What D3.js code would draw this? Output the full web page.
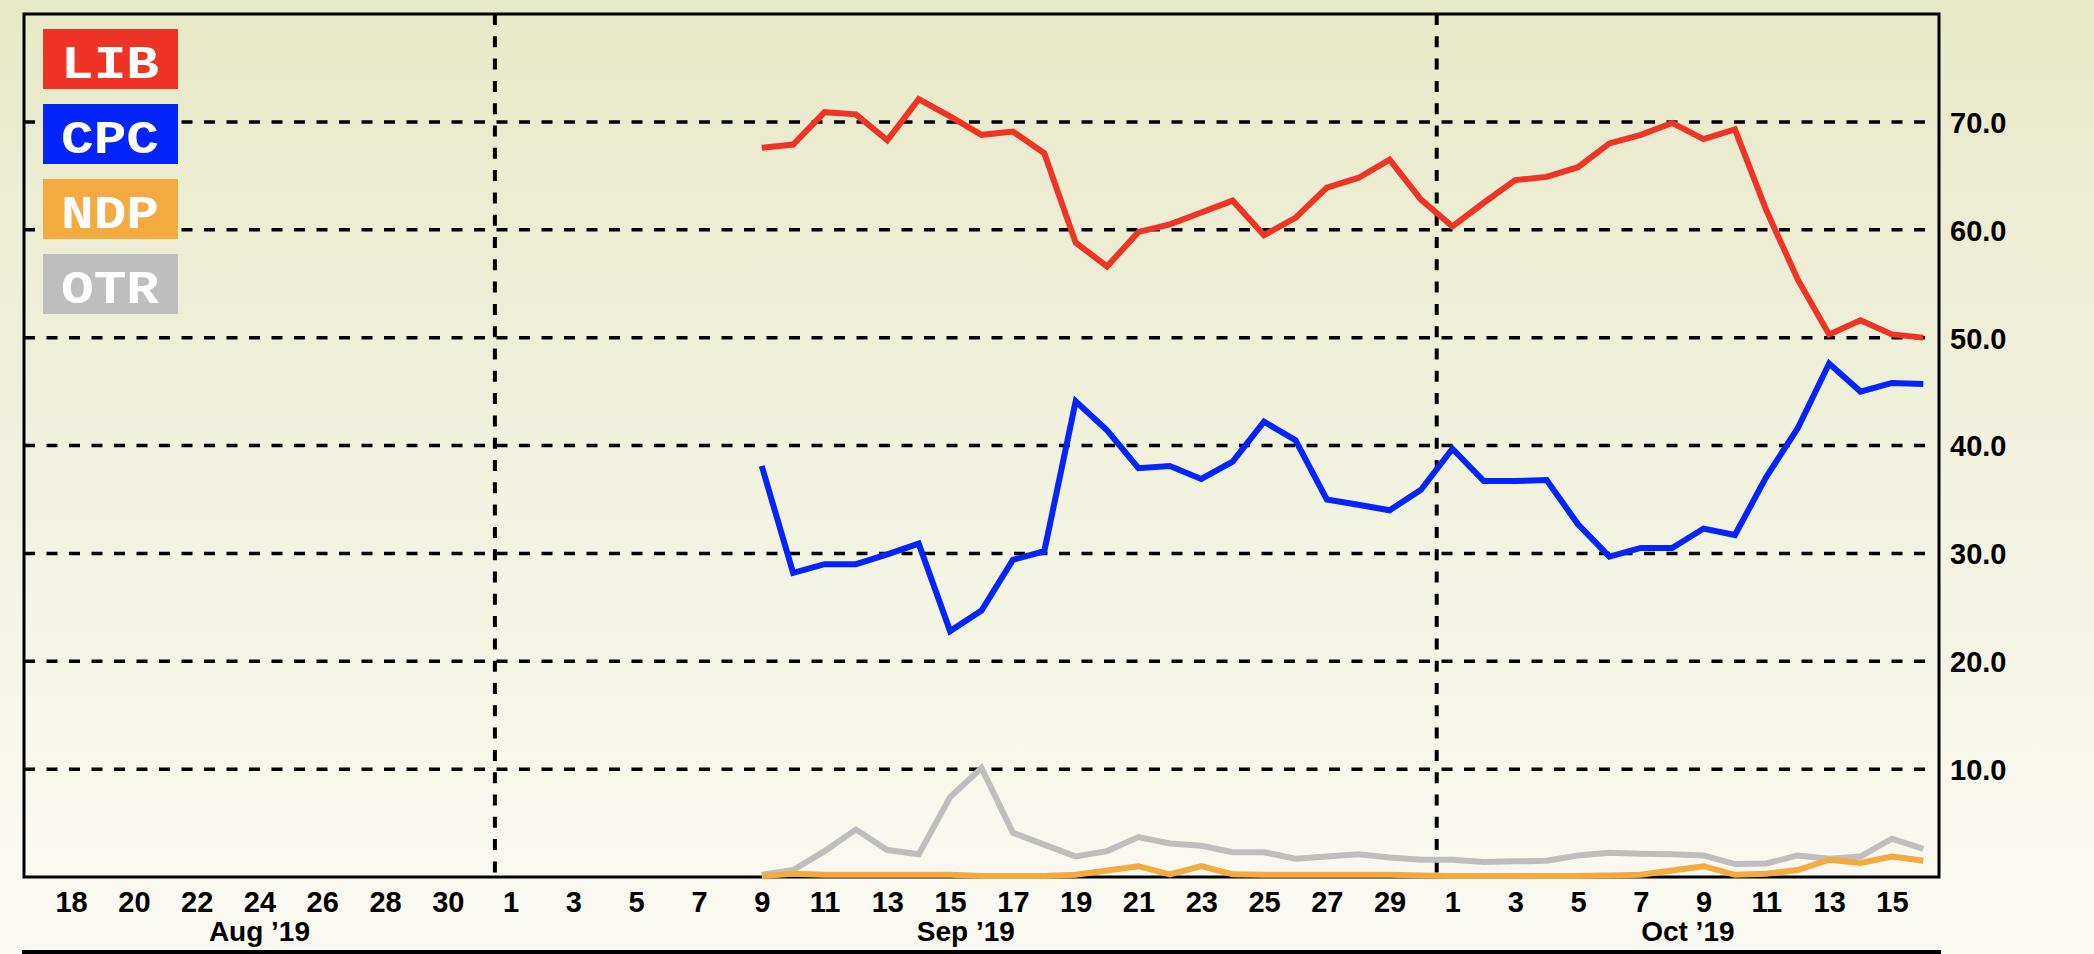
<!DOCTYPE html>
<html>
<head>
<meta charset="utf-8">
<script src="https://cdn.jsdelivr.net/npm/d3@7/dist/d3.min.js"></script>
<style>
  html, body { margin: 0; padding: 0; overflow: hidden; }
  svg { display: block; }
</style>
</head>
<body>
<script>
// poll dates (Sep 9 .. Oct 16, 2019)
var dates = [
  "2019-09-09","2019-09-10","2019-09-11","2019-09-12","2019-09-13","2019-09-14",
  "2019-09-15","2019-09-16","2019-09-17","2019-09-18","2019-09-19","2019-09-20",
  "2019-09-21","2019-09-22","2019-09-23","2019-09-24","2019-09-25","2019-09-26",
  "2019-09-27","2019-09-28","2019-09-29","2019-09-30",
  "2019-10-01","2019-10-02","2019-10-03","2019-10-04","2019-10-05","2019-10-06",
  "2019-10-07","2019-10-08","2019-10-09","2019-10-10","2019-10-11","2019-10-12",
  "2019-10-13","2019-10-14","2019-10-15","2019-10-16"
];

var lib = [67.6, 67.9, 70.9, 70.7, 68.3, 72.1, 70.5, 68.8, 69.1, 67.1, 58.8, 56.6,
           59.8, 60.5, 61.6, 62.7, 59.5, 61.1, 63.9, 64.8, 66.5, 62.8,
           60.3, 62.5, 64.6, 64.9, 65.8, 68.0, 68.8, 69.9, 68.4, 69.3, 61.8, 55.4,
           50.3, 51.6, 50.3, 50.0];

var cpc = [38.1, 28.2, 29.0, 29.0, 29.9, 30.9, 22.8, 24.7, 29.4, 30.2, 44.1, 41.4,
           37.9, 38.1, 36.9, 38.5, 42.2, 40.5, 35.0, 34.5, 34.0, 35.9,
           39.7, 36.7, 36.7, 36.8, 32.7, 29.7, 30.5, 30.5, 32.3, 31.7, 37.1, 41.6,
           47.6, 45.0, 45.8, 45.7];

var ndp = [0.1, 0.3, 0.2, 0.2, 0.2, 0.2, 0.2, 0.1, 0.1, 0.1, 0.2, 0.6,
           1.0, 0.25, 1.0, 0.25, 0.2, 0.2, 0.2, 0.2, 0.2, 0.15,
           0.1, 0.1, 0.1, 0.1, 0.1, 0.15, 0.2, 0.6, 1.0, 0.2, 0.3, 0.65,
           1.6, 1.3, 1.9, 1.5];

var otr = [0.2, 0.65, 2.4, 4.4, 2.5, 2.1, 7.4, 10.1, 4.1, 3.0, 1.9, 2.4,
           3.7, 3.1, 2.9, 2.3, 2.3, 1.7, 1.9, 2.1, 1.8, 1.6,
           1.6, 1.4, 1.45, 1.5, 2.0, 2.25, 2.15, 2.1, 2.0, 1.2, 1.25, 2.0,
           1.7, 1.9, 3.55, 2.6];

var parties = ["LIB", "CPC", "NDP", "OTR"];
var party_colors = ["#ee3425", "#0424fa", "#f3aa3f", "#bebebe"];

// x axis labels, every second day
var tick_days = [
  "2019-08-18","2019-08-20","2019-08-22","2019-08-24","2019-08-26","2019-08-28","2019-08-30",
  "2019-09-01","2019-09-03","2019-09-05","2019-09-07","2019-09-09","2019-09-11","2019-09-13",
  "2019-09-15","2019-09-17","2019-09-19","2019-09-21","2019-09-23","2019-09-25","2019-09-27",
  "2019-09-29","2019-10-01","2019-10-03","2019-10-05","2019-10-07","2019-10-09","2019-10-11",
  "2019-10-13","2019-10-15"
];
var months = ["2019-08-01", "2019-09-01", "2019-10-01"];
var month_labels = ["Aug \u201919", "Sep \u201919", "Oct \u201919"];
var y_ticks = [10, 20, 30, 40, 50, 60, 70];

var width = 2094;
var height = 954;
var plot_left = 24, plot_right = 1939, plot_top = 14, plot_bottom = 877;

var parseDay = d3.utcParse("%Y-%m-%d");
var noon = function(s) { return d3.utcHour.offset(parseDay(s), 12); };

var x = d3.scaleUtc()
  .domain([parseDay("2019-08-17"), parseDay("2019-10-17")])
  .range([plot_left, plot_right]);

var y = d3.scaleLinear()
  .domain([0, 80])
  .range([plot_bottom, plot_top]);

var svg = d3.select("body").append("svg")
  .attr("width", width)
  .attr("height", height);

// page background
var grad = svg.append("defs").append("linearGradient")
  .attr("id", "bg")
  .attr("x1", 0).attr("y1", 0).attr("x2", 0).attr("y2", 1);
grad.append("stop").attr("offset", "0%").attr("stop-color", "#e8e9c8");
grad.append("stop").attr("offset", "92%").attr("stop-color", "#f9f9f1");
grad.append("stop").attr("offset", "100%").attr("stop-color", "#f9f9f2");

svg.append("rect")
  .attr("width", width).attr("height", height)
  .attr("fill", "url(#bg)");

// horizontal grid
svg.append("g")
  .selectAll("line")
  .data(y_ticks)
  .enter().append("line")
    .attr("x1", plot_left).attr("x2", plot_right - 4)
    .attr("y1", d => y(d)).attr("y2", d => y(d))
    .attr("stroke", "#000")
    .attr("stroke-width", 3.5)
    .attr("stroke-dasharray", "11,11.5");

// month separators
svg.append("g")
  .selectAll("line")
  .data(months.slice(1))
  .enter().append("line")
    .attr("x1", d => x(parseDay(d))).attr("x2", d => x(parseDay(d)))
    .attr("y1", plot_top).attr("y2", plot_bottom)
    .attr("stroke", "#000")
    .attr("stroke-width", 4)
    .attr("stroke-dasharray", "11,11.3");

// frame
svg.append("rect")
  .attr("x", plot_left).attr("y", plot_top)
  .attr("width", plot_right - plot_left).attr("height", plot_bottom - plot_top)
  .attr("fill", "none")
  .attr("stroke", "#000")
  .attr("stroke-width", 3);

// bottom rule
svg.append("line")
  .attr("x1", 22).attr("x2", 1941)
  .attr("y1", 952).attr("y2", 952)
  .attr("stroke", "#000")
  .attr("stroke-width", 4);

// x axis
var xAxis = d3.axisBottom(x)
  .tickValues(tick_days.map(noon))
  .tickFormat(d3.utcFormat("%-d"))
  .tickSize(0);

var gx = svg.append("g")
  .attr("transform", "translate(0," + plot_bottom + ")")
  .call(xAxis);
gx.select(".domain").remove();
gx.selectAll("text")
  .attr("y", 35).attr("dy", null)
  .attr("fill", "#000")
  .style("font-family", "'Liberation Sans', Arial, sans-serif")
  .style("font-weight", "bold")
  .style("font-size", "29px");

// month labels, centred on the visible part of each month
var x_dom = x.domain();
svg.append("g")
  .selectAll("text")
  .data(months)
  .enter().append("text")
    .attr("x", function(d) {
      var a = parseDay(d);
      var b = d3.utcMonth.offset(a, 1);
      a = a < x_dom[0] ? x_dom[0] : a;
      b = b > x_dom[1] ? x_dom[1] : b;
      return (x(a) + x(b)) / 2;
    })
    .attr("y", 941)
    .attr("text-anchor", "middle")
    .style("font-family", "'Liberation Sans', Arial, sans-serif")
    .style("font-weight", "bold")
    .style("font-size", "28px")
    .text((d, i) => month_labels[i]);

// y axis on the right
var yAxis = d3.axisRight(y)
  .tickValues(y_ticks)
  .tickFormat(d3.format(".1f"))
  .tickSize(0)
  .tickPadding(11);

var gy = svg.append("g")
  .attr("transform", "translate(" + plot_right + ",0)")
  .call(yAxis);
gy.select(".domain").remove();
gy.selectAll("text")
  .attr("fill", "#000")
  .attr("dy", "0.36em")
  .style("font-family", "'Liberation Sans', Arial, sans-serif")
  .style("font-weight", "bold")
  .style("font-size", "29px");

// series lines
var series = [lib, cpc, ndp, otr];
var line = d3.line()
  .x((d, i) => x(noon(dates[i])))
  .y(d => y(d));

var draw_order = [3, 2, 1, 0];
svg.append("g")
  .selectAll("path")
  .data(draw_order)
  .enter().append("path")
    .attr("d", k => line(series[k]))
    .attr("fill", "none")
    .attr("stroke", k => party_colors[k])
    .attr("stroke-width", 6)
    .attr("stroke-linejoin", "miter");

// legend
var legend = svg.append("g")
  .selectAll("g")
  .data(parties)
  .enter().append("g")
    .attr("transform", (d, i) => "translate(43," + (29 + i * 75) + ")");

legend.append("rect")
  .attr("width", 135).attr("height", 60)
  .attr("fill", (d, i) => party_colors[i]);

legend.append("text")
  .attr("x", 18).attr("y", 49)
  .attr("textLength", 98)
  .attr("lengthAdjust", "spacingAndGlyphs")
  .attr("fill", "#fff")
  .style("font-family", "'Courier New', Courier, 'DejaVu Serif', serif")
  .style("font-weight", "bold")
  .style("font-size", "46px")
  .text(d => d);
</script>
</body>
</html>
